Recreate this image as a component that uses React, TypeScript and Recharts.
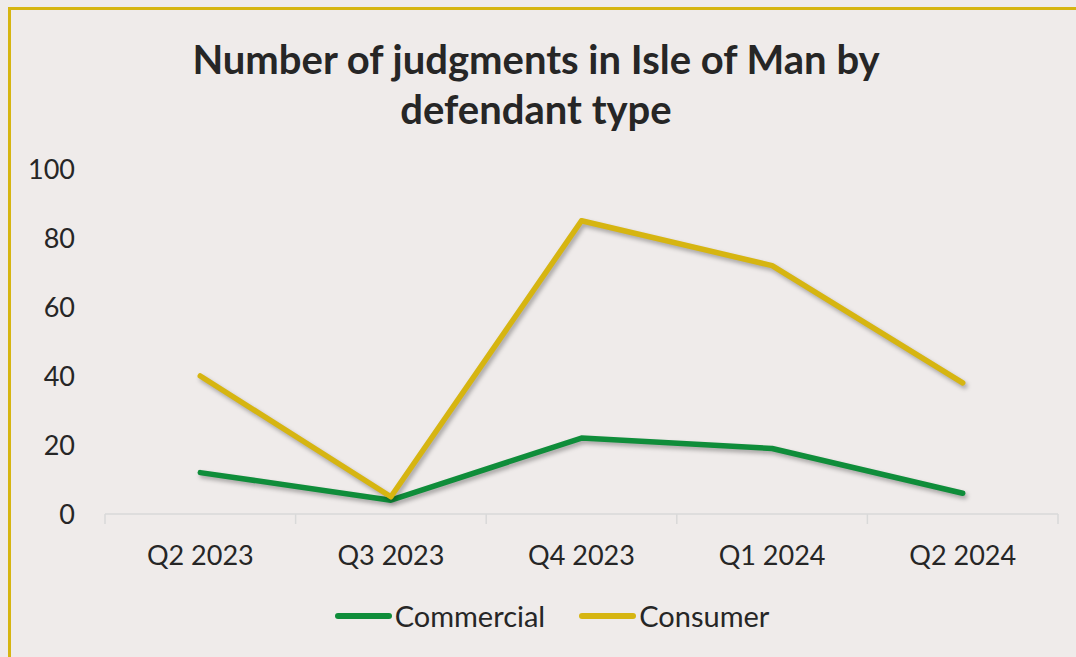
import React from "react";
import { LineChart, Line, XAxis, YAxis } from "recharts";

const QUARTERS = ["Q2 2023", "Q3 2023", "Q4 2023", "Q1 2024", "Q2 2024"];
const COMMERCIAL = [12, 4, 22, 19, 6];
const CONSUMER = [40, 5, 85, 72, 38];
const Y_TICKS = [0, 20, 40, 60, 80, 100];

const GREEN = "#0F8D3A";
const YELLOW = "#D6B511";
const BG = "#EFEBEA";
const FONT = "Lato, 'Open Sans', sans-serif";

const SERIES = [
  { key: "Commercial", color: GREEN },
  { key: "Consumer", color: YELLOW },
];

const data = QUARTERS.map((q, i) => ({
  quarter: q,
  Commercial: COMMERCIAL[i],
  Consumer: CONSUMER[i],
}));

// Excel style: ticks sit between categories, not under them
function QuarterTick(props: any) {
  const { x, y, payload, index } = props;
  const half = payload?.offset || 95.3;
  return (
    <g>
      <line x1={x - half} y1={y - 32} x2={x - half} y2={y - 22} stroke="#D9D9D9" strokeWidth={1.5} />
      {index === QUARTERS.length - 1 && (
        <line x1={x + half} y1={y - 32} x2={x + half} y2={y - 22} stroke="#D9D9D9" strokeWidth={1.5} />
      )}
      <text x={x} y={y} dy="0.71em" textAnchor="middle" fill="#262626" fontSize={27} fontFamily={FONT}>
        {payload.value}
      </text>
    </g>
  );
}

export default function App() {
  return (
    <div style={{ position: "absolute", left: 0, top: 0, width: 1076, height: 657, background: BG, overflow: "hidden" }}>
      <style>{`.recharts-line-curve { filter: drop-shadow(2px 3px 2px rgba(0,0,0,0.3)); }`}</style>
      <div
        style={{
          position: "absolute",
          left: 8,
          top: 7,
          width: 1100,
          height: 700,
          borderTop: `3px solid ${YELLOW}`,
          borderLeft: `3px solid ${YELLOW}`,
        }}
      />
      <div
        style={{
          position: "absolute",
          left: 0,
          top: 34,
          width: 1072,
          textAlign: "center",
          fontFamily: FONT,
          fontWeight: 700,
          fontSize: 40,
          lineHeight: "50px",
          color: "#262626",
        }}
      >
        Number of judgments in Isle of Man by
        <br />
        defendant type
      </div>
      <LineChart
        width={1076}
        height={657}
        data={data}
        margin={{ top: 169, right: 18, bottom: 113, left: 25 }}
        style={{ position: "absolute", left: 0, top: 0 }}
      >
        <XAxis
          dataKey="quarter"
          scale="band"
          height={30}
          stroke="#D9D9D9"
          strokeWidth={1.5}
          tickLine={false}
          tickMargin={26}
          tick={<QuarterTick />}
        />
        <YAxis
          width={80}
          domain={[0, 100]}
          ticks={Y_TICKS}
          axisLine={false}
          tickLine={false}
          tickMargin={24}
          tick={{ fill: "#262626", fontSize: 27, fontFamily: FONT }}
        />
        {SERIES.map((s) => (
          <Line
            key={s.key}
            type="linear"
            dataKey={s.key}
            stroke={s.color}
            strokeWidth={5.5}
            strokeLinecap="round"
            strokeLinejoin="round"
            dot={false}
            isAnimationActive={false}
          />
        ))}
      </LineChart>
      <div
        style={{
          position: "absolute",
          left: 0,
          top: 598,
          width: 1104,
          display: "flex",
          justifyContent: "center",
          gap: 34,
          fontFamily: FONT,
          fontSize: 29,
          color: "#262626",
        }}
      >
        {SERIES.map((s) => (
          <div key={s.key} style={{ display: "flex", alignItems: "center" }}>
            <span style={{ display: "inline-block", width: 57, height: 6, borderRadius: 3, background: s.color, marginRight: 3 }} />
            {s.key}
          </div>
        ))}
      </div>
    </div>
  );
}
